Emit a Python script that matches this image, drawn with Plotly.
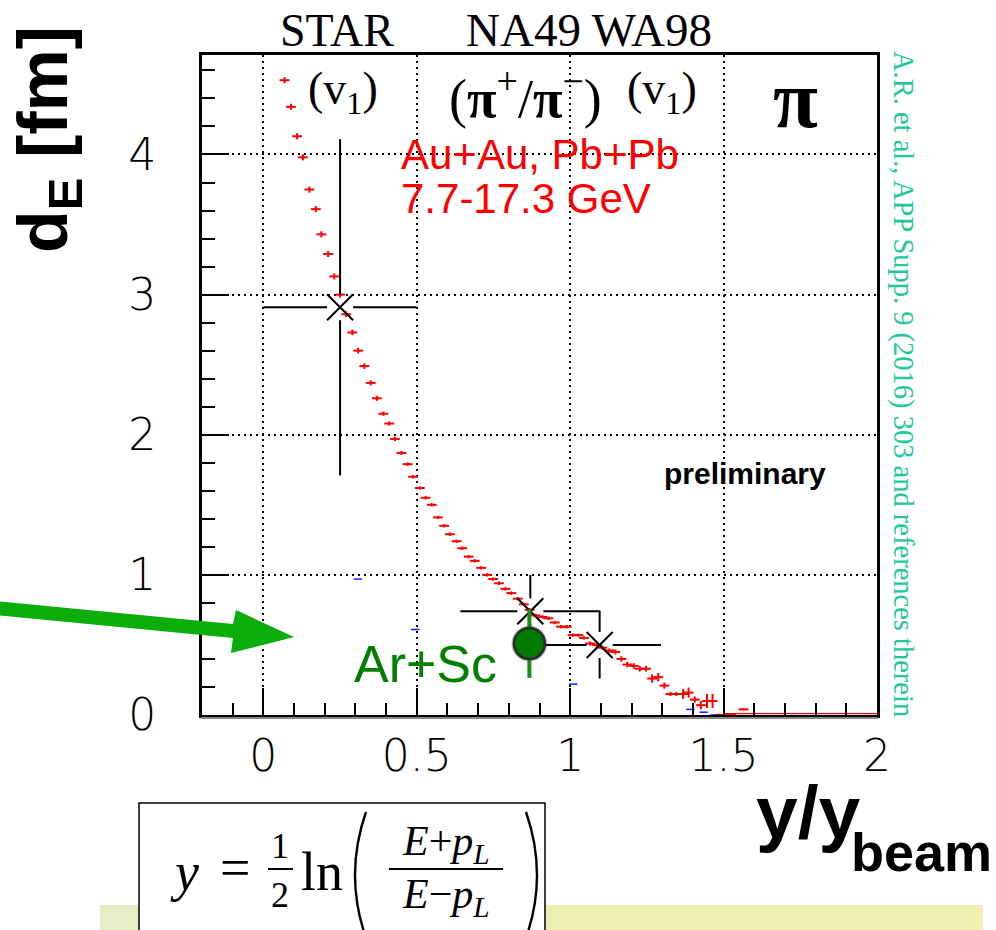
import plotly.graph_objects as go

# ---------------- data ----------------
# HBT-like source distance d_E versus y/y_beam (red histogram-style points)
red_x = [0.069, 0.090, 0.110, 0.129, 0.150, 0.171, 0.189, 0.211, 0.231, 0.250,
         0.270, 0.290, 0.309, 0.329, 0.350, 0.370, 0.391, 0.410, 0.429, 0.450,
         0.470, 0.488, 0.510, 0.529, 0.549, 0.569, 0.589, 0.608, 0.630, 0.648,
         0.669, 0.689, 0.710, 0.729, 0.749, 0.768, 0.789, 0.808, 0.829, 0.849,
         0.868, 0.888, 0.910, 0.929, 0.950, 0.970, 0.989, 1.008, 1.027, 1.045,
         1.065, 1.086, 1.105, 1.127, 1.147, 1.167, 1.186, 1.207, 1.227, 1.247,
         1.267, 1.287, 1.307, 1.327, 1.346, 1.368, 1.386, 1.406, 1.426, 1.446,
         1.464, 1.484, 1.505, 1.525, 1.565]
red_y = [4.53, 4.34, 4.13, 3.98, 3.75, 3.61, 3.43, 3.29, 3.13, 3.00,
         2.86, 2.73, 2.60, 2.49, 2.37, 2.26, 2.15, 2.08, 1.97, 1.87,
         1.79, 1.70, 1.62, 1.55, 1.50, 1.41, 1.35, 1.29, 1.24, 1.19,
         1.13, 1.10, 1.05, 1.00, 0.97, 0.94, 0.90, 0.87, 0.83, 0.79,
         0.75, 0.71, 0.70, 0.69, 0.66, 0.63, 0.63, 0.57, 0.57, 0.55,
         0.51, 0.50, 0.48, 0.46, 0.45, 0.40, 0.36, 0.35, 0.33, 0.33,
         0.26, 0.27, 0.21, 0.15, 0.15, 0.15, 0.16, 0.11, 0.07, 0.10,
         0.10, 0.00, 0.00, 0.00, 0.04]
red_err = [0.022, 0.022, 0.022, 0.022, 0.022, 0.022, 0.022, 0.022, 0.022, 0.022,
           0.020, 0.020, 0.020, 0.020, 0.018, 0.018, 0.015, 0.015, 0.015, 0.015,
           0.012, 0.012, 0.012, 0.012, 0.012, 0.012, 0.012, 0.012, 0.012, 0.012,
           0.012, 0.012, 0.012, 0.012, 0.012, 0.012, 0.012, 0.012, 0.012, 0.012,
           0.012, 0.012, 0.012, 0.012, 0.012, 0.012, 0.012, 0.012, 0.012, 0.012,
           0.015, 0.015, 0.015, 0.015, 0.018, 0.020, 0.020, 0.020, 0.020, 0.020,
           0.030, 0.030, 0.022, 0.015, 0.015, 0.035, 0.036, 0.022, 0.030, 0.050,
           0.050, 0.010, 0.010, 0.010, 0.008]
# tail of the histogram lying on zero
tail_x = [1.50, 2.00]
tail_y = [0.01, 0.01]

# faint blue points
blue_x = [0.308, 0.495, 1.010, 1.392, 1.435, 1.470]
blue_y = [0.97, 0.61, 0.22, 0.04, 0.02, 0.00]

# STAR (v1), NA49 (pi+/pi-), WA98 (v1)
exp_x = [0.250, 0.870, 1.096]
exp_y = [2.91, 0.74, 0.50]
exp_ex = [0.250, 0.228, 0.200]
exp_ey = [1.20, 0.26, 0.24]

# NA61/SHINE Ar+Sc
arsc_x = [0.867]
arsc_y = [0.51]
arsc_ey = [0.245]

x_ticks = [0, 0.5, 1, 1.5, 2]
x_ticklabels = ["0", "0.5", "1", "1.5", "2"]
y_ticks = [0, 1, 2, 3, 4]
y_ticklabels = ["0", "1", "2", "3", "4"]

# ---------------- geometry ----------------
W, H = 996, 930
L, R, T, B = 202, 877, 55, 715
XR = [-0.2, 2.0]
YR = [0.0, 4.71]


def px(x):
    return (x - L) / (R - L)


def py(y):
    return (B - y) / (B - T)


fig = go.Figure()

# red histogram-like points
fig.add_trace(go.Scatter(
    x=red_x, y=red_y, mode="markers",
    marker=dict(symbol="line-ew", size=7, line=dict(color="#ff0000", width=2), color="#ff0000"),
    error_y=dict(type="data", array=red_err, color="#ff0000", thickness=2, width=0),
    hoverinfo="skip"))
fig.add_trace(go.Scatter(x=tail_x, y=tail_y, mode="lines",
                         line=dict(color="#ff0000", width=1.2), hoverinfo="skip"))
fig.add_trace(go.Scatter(
    x=blue_x, y=blue_y, mode="markers",
    marker=dict(symbol="line-ew", size=6, line=dict(color="#1020ff", width=1.5)),
    hoverinfo="skip"))

# error bars of the black points, leaving a gap around the marker
gx = 13 * (XR[1] - XR[0]) / (R - L)
gy = 13 * (YR[1] - YR[0]) / (B - T)
sx, sy = [], []
for x, y, ex, ey in zip(exp_x, exp_y, exp_ex, exp_ey):
    sx += [x - ex, x - gx, None, x + gx, x + ex, None, x, x, None, x, x, None]
    sy += [y, y, None, y, y, None, y - ey, y - gy, None, y + gy, y + ey, None]
fig.add_trace(go.Scatter(x=sx, y=sy, mode="lines",
                         line=dict(color="black", width=2), hoverinfo="skip"))
fig.add_trace(go.Scatter(
    x=exp_x, y=exp_y, mode="markers",
    marker=dict(symbol="x-thin", size=26, line=dict(color="black", width=2)),
    hoverinfo="skip"))

# Ar+Sc point
ax_, ay_ = [], []
for x, y, ey in zip(arsc_x, arsc_y, arsc_ey):
    ax_ += [x, x, None]
    ay_ += [y - ey, y + ey, None]
fig.add_trace(go.Scatter(x=ax_, y=ay_, mode="lines",
                         line=dict(color="#1a8a1a", width=4), hoverinfo="skip"))
fig.add_trace(go.Scatter(
    x=arsc_x, y=arsc_y, mode="markers",
    marker=dict(symbol="circle", size=36, color="rgba(90,90,90,0.35)", line=dict(width=0)),
    hoverinfo="skip"))
fig.add_trace(go.Scatter(
    x=arsc_x, y=arsc_y, mode="markers",
    marker=dict(symbol="circle", size=31, color="#007a00", line=dict(color="#2a2a2a", width=2.5)),
    hoverinfo="skip"))

tick_font = dict(family="DejaVu Sans", size=44, color="black", weight=200)
fig.update_xaxes(
    range=XR, tickvals=x_ticks, ticktext=x_ticklabels,
    ticks="inside", ticklen=27, tickwidth=1.5, tickcolor="black",
    showline=True, linewidth=3, linecolor="black", mirror=True,
    showgrid=True, gridcolor="black", gridwidth=1.6, griddash="2px,4px",
    zeroline=False, tickfont=tick_font, ticklabelstandoff=0,
    minor=dict(dtick=0.1, tick0=0, ticks="inside", ticklen=12, tickwidth=1.5,
               tickcolor="black", showgrid=False))
fig.update_yaxes(
    range=YR, tickvals=y_ticks, ticktext=y_ticklabels,
    ticks="inside", ticklen=27, tickwidth=1.5, tickcolor="black",
    showline=True, linewidth=3, linecolor="black", mirror=True,
    showgrid=True, gridcolor="black", gridwidth=1.6, griddash="2px,4px",
    zeroline=False, tickfont=tick_font, ticklabelstandoff=34,
    minor=dict(dtick=0.2, tick0=0, ticks="inside", ticklen=13, tickwidth=1.5,
               tickcolor="black", showgrid=False))

shapes = []
# shadow under the bottom axis
shapes.append(dict(type="line", xref="paper", yref="paper", x0=px(L - 1), x1=px(R + 1),
                   y0=py(B + 3), y1=py(B + 3), line=dict(color="#888888", width=2)))
# green arrow pointing at the Ar+Sc point
arrow = [(-5, 601), (233, 624), (236, 610), (294, 637), (231, 653), (233, 638), (-5, 615)]
path = "M " + " L ".join(f"{px(a):.5f},{py(b):.5f}" for a, b in arrow) + " Z"
shapes.append(dict(type="path", xref="paper", yref="paper", path=path,
                   fillcolor="#0aad0a", line=dict(width=0)))
# pale band along the bottom edge
shapes.append(dict(type="rect", xref="paper", yref="paper", x0=px(100), x1=px(139),
                   y0=py(905), y1=py(935), fillcolor="#e8ecc4", line=dict(width=0)))
shapes.append(dict(type="rect", xref="paper", yref="paper", x0=px(545), x1=px(983),
                   y0=py(905), y1=py(935), fillcolor="#eef0b2", line=dict(width=0)))
# formula box
shapes.append(dict(type="rect", xref="paper", yref="paper", x0=px(139), x1=px(545),
                   y0=py(803), y1=py(940), fillcolor="white", line=dict(color="black", width=1.5)))
# fraction bars
shapes.append(dict(type="line", xref="paper", yref="paper", x0=px(268), x1=px(293),
                   y0=py(869), y1=py(869), line=dict(color="black", width=2)))
shapes.append(dict(type="line", xref="paper", yref="paper", x0=px(389), x1=px(503),
                   y0=py(869), y1=py(869), line=dict(color="black", width=2)))
# tall parentheses around the fraction
for x_top, x_ctl in ((366, 344), (526, 548)):
    shapes.append(dict(type="path", xref="paper", yref="paper",
                       path=(f"M {px(x_top):.5f},{py(812):.5f} "
                             f"Q {px(x_ctl):.5f},{py(875):.5f} {px(x_top):.5f},{py(938):.5f}"),
                       line=dict(color="black", width=2.4)))

SERIF = "Liberation Serif"
SANS = "Liberation Sans"
notes = [
    # (text, x, y, family, size, color, angle)
    ("STAR", 337, 30, SERIF, 46, "black", 0),
    ("NA49 WA98", 589, 30, SERIF, 47, "black", 0),
    ("(v<sub>1</sub>)", 343, 92, SERIF, 46, "black", 0),
    ("(<b>π</b><sup>+</sup>/<b>π</b><sup>−</sup>)", 525, 94, SERIF, 54, "black", 0),
    ("(v<sub>1</sub>)", 662, 92, SERIF, 46, "black", 0),
    ("<b>π</b>", 795, 99, SERIF, 82, "black", 0),
    ("<b>preliminary</b>", 745, 473, SANS, 30, "black", 0),
    ("Ar+Sc", 425, 664, SANS, 52, "#008000", 0),
    ("<b>d<sub>E</sub> [fm]</b>", 48, 140, SANS, 70, "black", -90),
    ("A.R. et al., APP Supp. 9 (2016) 303 and references therein", 903, 384, SERIF, 28.5, "#21c99a", 90),
    ("<b>y/y</b>", 808, 812, SANS, 75, "black", 0),
    ("<b>beam</b>", 921, 852, SANS, 54, "black", 0),
    # formula
    ("<i>y</i>", 184, 872, SERIF, 54, "black", 0),
    ("=", 235, 868, SERIF, 54, "black", 0),
    ("1", 280, 846, SERIF, 36, "black", 0),
    ("2", 280, 895, SERIF, 36, "black", 0),
    ("ln", 322, 872, SERIF, 54, "black", 0),
    ("<i>E</i>+<i>p<sub>L</sub></i>", 446, 844, SERIF, 42, "black", 0),
    ("<i>E</i>−<i>p<sub>L</sub></i>", 446, 897, SERIF, 42, "black", 0),
]
annotations = []
for text, x, y, fam, size, color, ang in notes:
    annotations.append(dict(text=text, x=px(x), y=py(y), xref="paper", yref="paper",
                            showarrow=False, xanchor="center", yanchor="middle",
                            textangle=ang, font=dict(family=fam, size=size, color=color)))
for text, y in (("Au+Au, Pb+Pb", 154), ("7.7-17.3 GeV", 198)):
    annotations.append(dict(text=text, x=px(399), y=py(y),
                            xref="paper", yref="paper", showarrow=False, xanchor="left",
                            yanchor="middle", align="left",
                            font=dict(family=SANS, size=42, color="#ff0000")))

fig.update_layout(
    width=W, height=H, autosize=False,
    margin=dict(l=L, r=W - R, t=T, b=H - B, pad=0),
    paper_bgcolor="white", plot_bgcolor="white",
    showlegend=False, shapes=shapes, annotations=annotations)

fig.write_html("out.html")
